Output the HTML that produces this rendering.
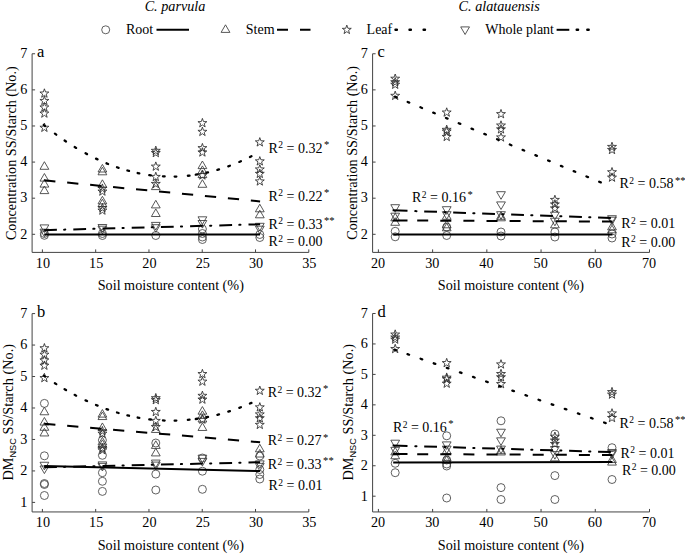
<!DOCTYPE html>
<html><head><meta charset="utf-8"><style>
html,body{margin:0;padding:0;background:#fff;}
svg{display:block;font-family:"Liberation Serif", serif;}
</style></head><body>
<svg width="685" height="554" viewBox="0 0 685 554" font-family='"Liberation Serif", serif' fill="#000">
<rect width="685" height="554" fill="#fff"/>
<text x="175.00" y="11.30" font-size="14.2" text-anchor="middle" font-style="italic">C. parvula</text>
<text x="499.20" y="11.30" font-size="14.2" text-anchor="middle" font-style="italic">C. alatauensis</text>
<circle cx="105.70" cy="29.80" r="4.0" fill="none" stroke="#444" stroke-width="0.85"/>
<text x="126.00" y="34.40" font-size="14" text-anchor="start" >Root</text>
<path d="M156.5,29.8 H189" stroke="#000" stroke-width="2"/>
<polygon points="225.50,24.80 229.90,32.40 221.10,32.40" fill="none" stroke="#3a3a3a" stroke-width="0.85"/>
<text x="245.80" y="34.40" font-size="14" text-anchor="start" >Stem</text>
<path d="M277,29.8 H288 M300,29.8 H310.5" stroke="#000" stroke-width="2"/>
<polygon points="346.80,25.10 347.91,28.28 351.27,28.35 348.59,30.38 349.56,33.60 346.80,31.68 344.04,33.60 345.01,30.38 342.33,28.35 345.69,28.28" fill="none" stroke="#2a2a2a" stroke-width="0.85"/>
<text x="366.60" y="34.40" font-size="14" text-anchor="start" >Leaf</text>
<path d="M395.50,29.80 L396.90,29.80 M409.50,29.80 L410.90,29.80 M423.60,29.80 L425.00,29.80" stroke="#000" stroke-width="2.4" stroke-linecap="round" fill="none"/>
<polygon points="465.10,34.50 469.50,26.90 460.70,26.90" fill="none" stroke="#3a3a3a" stroke-width="0.85"/>
<text x="485.20" y="34.40" font-size="14" text-anchor="start" >Whole plant</text>
<path d="M556.6,29.8 H569.3" stroke="#000" stroke-width="2"/>
<path d="M576.70,29.80 L578.10,29.80 M587.30,29.80 L588.70,29.80" stroke="#000" stroke-width="2.4" stroke-linecap="round" fill="none"/>
<path d="M32.1,53.75 V252.4 H308.80" fill="none" stroke="#444" stroke-width="1"/>
<path d="M42.40,252.4 v-3" stroke="#444" stroke-width="1"/>
<text x="42.90" y="267.90" font-size="14.2" text-anchor="middle" >10</text>
<path d="M95.68,252.4 v-3" stroke="#444" stroke-width="1"/>
<text x="96.18" y="267.90" font-size="14.2" text-anchor="middle" >15</text>
<path d="M148.96,252.4 v-3" stroke="#444" stroke-width="1"/>
<text x="149.46" y="267.90" font-size="14.2" text-anchor="middle" >20</text>
<path d="M202.24,252.4 v-3" stroke="#444" stroke-width="1"/>
<text x="202.74" y="267.90" font-size="14.2" text-anchor="middle" >25</text>
<path d="M255.52,252.4 v-3" stroke="#444" stroke-width="1"/>
<text x="256.02" y="267.90" font-size="14.2" text-anchor="middle" >30</text>
<path d="M308.80,252.4 v-3" stroke="#444" stroke-width="1"/>
<text x="309.30" y="267.90" font-size="14.2" text-anchor="middle" >35</text>
<path d="M32.1,234.30 h3" stroke="#444" stroke-width="1"/>
<text x="27.30" y="238.60" font-size="14.2" text-anchor="end" >2</text>
<path d="M32.1,198.19 h3" stroke="#444" stroke-width="1"/>
<text x="27.30" y="202.49" font-size="14.2" text-anchor="end" >3</text>
<path d="M32.1,162.08 h3" stroke="#444" stroke-width="1"/>
<text x="27.30" y="166.38" font-size="14.2" text-anchor="end" >4</text>
<path d="M32.1,125.97 h3" stroke="#444" stroke-width="1"/>
<text x="27.30" y="130.27" font-size="14.2" text-anchor="end" >5</text>
<path d="M32.1,89.86 h3" stroke="#444" stroke-width="1"/>
<text x="27.30" y="94.16" font-size="14.2" text-anchor="end" >6</text>
<path d="M32.1,53.75 h3" stroke="#444" stroke-width="1"/>
<text x="27.30" y="58.05" font-size="14.2" text-anchor="end" >7</text>
<text x="36.90" y="57.15" font-size="16.5" text-anchor="start" >a</text>
<path d="M32.1,313.6 V511.95 H308.80" fill="none" stroke="#444" stroke-width="1"/>
<path d="M42.40,511.95 v-3" stroke="#444" stroke-width="1"/>
<text x="42.90" y="527.45" font-size="14.2" text-anchor="middle" >10</text>
<path d="M95.68,511.95 v-3" stroke="#444" stroke-width="1"/>
<text x="96.18" y="527.45" font-size="14.2" text-anchor="middle" >15</text>
<path d="M148.96,511.95 v-3" stroke="#444" stroke-width="1"/>
<text x="149.46" y="527.45" font-size="14.2" text-anchor="middle" >20</text>
<path d="M202.24,511.95 v-3" stroke="#444" stroke-width="1"/>
<text x="202.74" y="527.45" font-size="14.2" text-anchor="middle" >25</text>
<path d="M255.52,511.95 v-3" stroke="#444" stroke-width="1"/>
<text x="256.02" y="527.45" font-size="14.2" text-anchor="middle" >30</text>
<path d="M308.80,511.95 v-3" stroke="#444" stroke-width="1"/>
<text x="309.30" y="527.45" font-size="14.2" text-anchor="middle" >35</text>
<path d="M32.1,502.40 h3" stroke="#444" stroke-width="1"/>
<text x="27.30" y="506.70" font-size="14.2" text-anchor="end" >1</text>
<path d="M32.1,470.93 h3" stroke="#444" stroke-width="1"/>
<text x="27.30" y="475.23" font-size="14.2" text-anchor="end" >2</text>
<path d="M32.1,439.46 h3" stroke="#444" stroke-width="1"/>
<text x="27.30" y="443.76" font-size="14.2" text-anchor="end" >3</text>
<path d="M32.1,407.99 h3" stroke="#444" stroke-width="1"/>
<text x="27.30" y="412.29" font-size="14.2" text-anchor="end" >4</text>
<path d="M32.1,376.52 h3" stroke="#444" stroke-width="1"/>
<text x="27.30" y="380.82" font-size="14.2" text-anchor="end" >5</text>
<path d="M32.1,345.05 h3" stroke="#444" stroke-width="1"/>
<text x="27.30" y="349.35" font-size="14.2" text-anchor="end" >6</text>
<path d="M32.1,313.58 h3" stroke="#444" stroke-width="1"/>
<text x="27.30" y="317.88" font-size="14.2" text-anchor="end" >7</text>
<text x="36.90" y="317.00" font-size="16.5" text-anchor="start" >b</text>
<path d="M372.6,53.75 V252.4 H649.50" fill="none" stroke="#444" stroke-width="1"/>
<path d="M378.40,252.4 v-3" stroke="#444" stroke-width="1"/>
<text x="378.00" y="267.90" font-size="14.2" text-anchor="middle" >20</text>
<path d="M432.62,252.4 v-3" stroke="#444" stroke-width="1"/>
<text x="432.22" y="267.90" font-size="14.2" text-anchor="middle" >30</text>
<path d="M486.84,252.4 v-3" stroke="#444" stroke-width="1"/>
<text x="486.44" y="267.90" font-size="14.2" text-anchor="middle" >40</text>
<path d="M541.06,252.4 v-3" stroke="#444" stroke-width="1"/>
<text x="540.66" y="267.90" font-size="14.2" text-anchor="middle" >50</text>
<path d="M595.28,252.4 v-3" stroke="#444" stroke-width="1"/>
<text x="594.88" y="267.90" font-size="14.2" text-anchor="middle" >60</text>
<path d="M649.50,252.4 v-3" stroke="#444" stroke-width="1"/>
<text x="649.10" y="267.90" font-size="14.2" text-anchor="middle" >70</text>
<path d="M372.6,234.30 h3" stroke="#444" stroke-width="1"/>
<text x="367.80" y="238.60" font-size="14.2" text-anchor="end" >2</text>
<path d="M372.6,198.19 h3" stroke="#444" stroke-width="1"/>
<text x="367.80" y="202.49" font-size="14.2" text-anchor="end" >3</text>
<path d="M372.6,162.08 h3" stroke="#444" stroke-width="1"/>
<text x="367.80" y="166.38" font-size="14.2" text-anchor="end" >4</text>
<path d="M372.6,125.97 h3" stroke="#444" stroke-width="1"/>
<text x="367.80" y="130.27" font-size="14.2" text-anchor="end" >5</text>
<path d="M372.6,89.86 h3" stroke="#444" stroke-width="1"/>
<text x="367.80" y="94.16" font-size="14.2" text-anchor="end" >6</text>
<path d="M372.6,53.75 h3" stroke="#444" stroke-width="1"/>
<text x="367.80" y="58.05" font-size="14.2" text-anchor="end" >7</text>
<text x="377.40" y="57.15" font-size="16.5" text-anchor="start" >c</text>
<path d="M372.6,313.5 V511.95 H649.50" fill="none" stroke="#444" stroke-width="1"/>
<path d="M378.40,511.95 v-3" stroke="#444" stroke-width="1"/>
<text x="378.00" y="527.45" font-size="14.2" text-anchor="middle" >20</text>
<path d="M432.62,511.95 v-3" stroke="#444" stroke-width="1"/>
<text x="432.22" y="527.45" font-size="14.2" text-anchor="middle" >30</text>
<path d="M486.84,511.95 v-3" stroke="#444" stroke-width="1"/>
<text x="486.44" y="527.45" font-size="14.2" text-anchor="middle" >40</text>
<path d="M541.06,511.95 v-3" stroke="#444" stroke-width="1"/>
<text x="540.66" y="527.45" font-size="14.2" text-anchor="middle" >50</text>
<path d="M595.28,511.95 v-3" stroke="#444" stroke-width="1"/>
<text x="594.88" y="527.45" font-size="14.2" text-anchor="middle" >60</text>
<path d="M649.50,511.95 v-3" stroke="#444" stroke-width="1"/>
<text x="649.10" y="527.45" font-size="14.2" text-anchor="middle" >70</text>
<path d="M372.6,496.20 h3" stroke="#444" stroke-width="1"/>
<text x="367.80" y="500.50" font-size="14.2" text-anchor="end" >1</text>
<path d="M372.6,465.75 h3" stroke="#444" stroke-width="1"/>
<text x="367.80" y="470.05" font-size="14.2" text-anchor="end" >2</text>
<path d="M372.6,435.30 h3" stroke="#444" stroke-width="1"/>
<text x="367.80" y="439.60" font-size="14.2" text-anchor="end" >3</text>
<path d="M372.6,404.85 h3" stroke="#444" stroke-width="1"/>
<text x="367.80" y="409.15" font-size="14.2" text-anchor="end" >4</text>
<path d="M372.6,374.40 h3" stroke="#444" stroke-width="1"/>
<text x="367.80" y="378.70" font-size="14.2" text-anchor="end" >5</text>
<path d="M372.6,343.95 h3" stroke="#444" stroke-width="1"/>
<text x="367.80" y="348.25" font-size="14.2" text-anchor="end" >6</text>
<path d="M372.6,313.50 h3" stroke="#444" stroke-width="1"/>
<text x="367.80" y="317.80" font-size="14.2" text-anchor="end" >7</text>
<text x="377.40" y="316.90" font-size="16.5" text-anchor="start" >d</text>
<text x="170.80" y="290.20" font-size="14.2" text-anchor="middle" >Soil moisture content (%)</text>
<text x="510.90" y="290.20" font-size="14.2" text-anchor="middle" >Soil moisture content (%)</text>
<text x="170.80" y="550.10" font-size="14.2" text-anchor="middle" >Soil moisture content (%)</text>
<text x="510.90" y="550.10" font-size="14.2" text-anchor="middle" >Soil moisture content (%)</text>
<text transform="translate(16.3,153.2) rotate(-90)" font-size="14.2" text-anchor="middle">Concentration SS/Starch (No.)</text>
<text transform="translate(356.8,152.9) rotate(-90)" font-size="14.2" text-anchor="middle">Concentration SS/Starch (No.)</text>
<text transform="translate(12.9,412.3) rotate(-90)" font-size="14.3" text-anchor="middle">DM<tspan font-family="Liberation Sans, sans-serif" font-size="9.2" dy="3">NSC</tspan><tspan dy="-3"> SS/Starch (No.)</tspan></text>
<text transform="translate(353.3,412.3) rotate(-90)" font-size="14.3" text-anchor="middle">DM<tspan font-family="Liberation Sans, sans-serif" font-size="9.2" dy="3">NSC</tspan><tspan dy="-3"> SS/Starch (No.)</tspan></text>
<circle cx="44.40" cy="233.50" r="4.0" fill="none" stroke="#444" stroke-width="0.85"/>
<circle cx="44.40" cy="235.30" r="4.0" fill="none" stroke="#444" stroke-width="0.85"/>
<polygon points="44.40,232.50 48.80,224.90 40.00,224.90" fill="none" stroke="#3a3a3a" stroke-width="0.85"/>
<polygon points="44.40,236.80 48.80,229.20 40.00,229.20" fill="none" stroke="#3a3a3a" stroke-width="0.85"/>
<polygon points="44.40,161.70 48.80,169.30 40.00,169.30" fill="none" stroke="#3a3a3a" stroke-width="0.85"/>
<polygon points="44.40,173.50 48.80,181.10 40.00,181.10" fill="none" stroke="#3a3a3a" stroke-width="0.85"/>
<polygon points="44.40,179.50 48.80,187.10 40.00,187.10" fill="none" stroke="#3a3a3a" stroke-width="0.85"/>
<polygon points="44.40,186.00 48.80,193.60 40.00,193.60" fill="none" stroke="#3a3a3a" stroke-width="0.85"/>
<polygon points="44.40,88.80 45.51,91.98 48.87,92.05 46.19,94.08 47.16,97.30 44.40,95.38 41.64,97.30 42.61,94.08 39.93,92.05 43.29,91.98" fill="none" stroke="#2a2a2a" stroke-width="0.85"/>
<polygon points="44.40,96.20 45.51,99.38 48.87,99.45 46.19,101.48 47.16,104.70 44.40,102.78 41.64,104.70 42.61,101.48 39.93,99.45 43.29,99.38" fill="none" stroke="#2a2a2a" stroke-width="0.85"/>
<polygon points="44.40,102.70 45.51,105.88 48.87,105.95 46.19,107.98 47.16,111.20 44.40,109.28 41.64,111.20 42.61,107.98 39.93,105.95 43.29,105.88" fill="none" stroke="#2a2a2a" stroke-width="0.85"/>
<polygon points="44.40,108.80 45.51,111.98 48.87,112.05 46.19,114.08 47.16,117.30 44.40,115.38 41.64,117.30 42.61,114.08 39.93,112.05 43.29,111.98" fill="none" stroke="#2a2a2a" stroke-width="0.85"/>
<polygon points="44.40,123.00 45.51,126.18 48.87,126.25 46.19,128.28 47.16,131.50 44.40,129.58 41.64,131.50 42.61,128.28 39.93,126.25 43.29,126.18" fill="none" stroke="#2a2a2a" stroke-width="0.85"/>
<circle cx="102.40" cy="233.50" r="4.0" fill="none" stroke="#444" stroke-width="0.85"/>
<circle cx="102.40" cy="235.50" r="4.0" fill="none" stroke="#444" stroke-width="0.85"/>
<polygon points="102.40,232.10 106.80,224.50 98.00,224.50" fill="none" stroke="#3a3a3a" stroke-width="0.85"/>
<polygon points="102.40,233.80 106.80,226.20 98.00,226.20" fill="none" stroke="#3a3a3a" stroke-width="0.85"/>
<polygon points="102.40,164.40 106.80,172.00 98.00,172.00" fill="none" stroke="#3a3a3a" stroke-width="0.85"/>
<polygon points="102.40,167.20 106.80,174.80 98.00,174.80" fill="none" stroke="#3a3a3a" stroke-width="0.85"/>
<polygon points="102.40,179.80 106.80,187.40 98.00,187.40" fill="none" stroke="#3a3a3a" stroke-width="0.85"/>
<polygon points="102.40,196.30 106.80,203.90 98.00,203.90" fill="none" stroke="#3a3a3a" stroke-width="0.85"/>
<polygon points="102.40,199.20 106.80,206.80 98.00,206.80" fill="none" stroke="#3a3a3a" stroke-width="0.85"/>
<polygon points="102.40,183.90 103.51,187.08 106.87,187.15 104.19,189.18 105.16,192.40 102.40,190.48 99.64,192.40 100.61,189.18 97.93,187.15 101.29,187.08" fill="none" stroke="#2a2a2a" stroke-width="0.85"/>
<polygon points="102.40,186.80 103.51,189.98 106.87,190.05 104.19,192.08 105.16,195.30 102.40,193.38 99.64,195.30 100.61,192.08 97.93,190.05 101.29,189.98" fill="none" stroke="#2a2a2a" stroke-width="0.85"/>
<polygon points="102.40,203.30 103.51,206.48 106.87,206.55 104.19,208.58 105.16,211.80 102.40,209.88 99.64,211.80 100.61,208.58 97.93,206.55 101.29,206.48" fill="none" stroke="#2a2a2a" stroke-width="0.85"/>
<polygon points="102.40,205.80 103.51,208.98 106.87,209.05 104.19,211.08 105.16,214.30 102.40,212.38 99.64,214.30 100.61,211.08 97.93,209.05 101.29,208.98" fill="none" stroke="#2a2a2a" stroke-width="0.85"/>
<circle cx="155.80" cy="235.50" r="4.0" fill="none" stroke="#444" stroke-width="0.85"/>
<polygon points="155.80,230.00 160.20,222.40 151.40,222.40" fill="none" stroke="#3a3a3a" stroke-width="0.85"/>
<polygon points="155.80,232.30 160.20,224.70 151.40,224.70" fill="none" stroke="#3a3a3a" stroke-width="0.85"/>
<polygon points="155.80,182.00 160.20,189.60 151.40,189.60" fill="none" stroke="#3a3a3a" stroke-width="0.85"/>
<polygon points="155.80,200.30 160.20,207.90 151.40,207.90" fill="none" stroke="#3a3a3a" stroke-width="0.85"/>
<polygon points="155.80,208.90 160.20,216.50 151.40,216.50" fill="none" stroke="#3a3a3a" stroke-width="0.85"/>
<polygon points="155.80,146.10 156.91,149.28 160.27,149.35 157.59,151.38 158.56,154.60 155.80,152.68 153.04,154.60 154.01,151.38 151.33,149.35 154.69,149.28" fill="none" stroke="#2a2a2a" stroke-width="0.85"/>
<polygon points="155.80,148.30 156.91,151.48 160.27,151.55 157.59,153.58 158.56,156.80 155.80,154.88 153.04,156.80 154.01,153.58 151.33,151.55 154.69,151.48" fill="none" stroke="#2a2a2a" stroke-width="0.85"/>
<polygon points="155.80,161.90 156.91,165.08 160.27,165.15 157.59,167.18 158.56,170.40 155.80,168.48 153.04,170.40 154.01,167.18 151.33,165.15 154.69,165.08" fill="none" stroke="#2a2a2a" stroke-width="0.85"/>
<polygon points="155.80,172.20 156.91,175.38 160.27,175.45 157.59,177.48 158.56,180.70 155.80,178.78 153.04,180.70 154.01,177.48 151.33,175.45 154.69,175.38" fill="none" stroke="#2a2a2a" stroke-width="0.85"/>
<polygon points="155.80,179.20 156.91,182.38 160.27,182.45 157.59,184.48 158.56,187.70 155.80,185.78 153.04,187.70 154.01,184.48 151.33,182.45 154.69,182.38" fill="none" stroke="#2a2a2a" stroke-width="0.85"/>
<circle cx="202.40" cy="229.00" r="4.0" fill="none" stroke="#444" stroke-width="0.85"/>
<circle cx="202.40" cy="233.50" r="4.0" fill="none" stroke="#444" stroke-width="0.85"/>
<circle cx="202.40" cy="237.00" r="4.0" fill="none" stroke="#444" stroke-width="0.85"/>
<circle cx="202.40" cy="239.50" r="4.0" fill="none" stroke="#444" stroke-width="0.85"/>
<polygon points="202.40,224.40 206.80,216.80 198.00,216.80" fill="none" stroke="#3a3a3a" stroke-width="0.85"/>
<polygon points="202.40,228.10 206.80,220.50 198.00,220.50" fill="none" stroke="#3a3a3a" stroke-width="0.85"/>
<polygon points="202.40,161.00 206.80,168.60 198.00,168.60" fill="none" stroke="#3a3a3a" stroke-width="0.85"/>
<polygon points="202.40,165.90 206.80,173.50 198.00,173.50" fill="none" stroke="#3a3a3a" stroke-width="0.85"/>
<polygon points="202.40,170.00 206.80,177.60 198.00,177.60" fill="none" stroke="#3a3a3a" stroke-width="0.85"/>
<polygon points="202.40,179.70 206.80,187.30 198.00,187.30" fill="none" stroke="#3a3a3a" stroke-width="0.85"/>
<polygon points="202.40,118.40 203.51,121.58 206.87,121.65 204.19,123.68 205.16,126.90 202.40,124.98 199.64,126.90 200.61,123.68 197.93,121.65 201.29,121.58" fill="none" stroke="#2a2a2a" stroke-width="0.85"/>
<polygon points="202.40,127.10 203.51,130.28 206.87,130.35 204.19,132.38 205.16,135.60 202.40,133.68 199.64,135.60 200.61,132.38 197.93,130.35 201.29,130.28" fill="none" stroke="#2a2a2a" stroke-width="0.85"/>
<polygon points="202.40,143.40 203.51,146.58 206.87,146.65 204.19,148.68 205.16,151.90 202.40,149.98 199.64,151.90 200.61,148.68 197.93,146.65 201.29,146.58" fill="none" stroke="#2a2a2a" stroke-width="0.85"/>
<polygon points="202.40,147.70 203.51,150.88 206.87,150.95 204.19,152.98 205.16,156.20 202.40,154.28 199.64,156.20 200.61,152.98 197.93,150.95 201.29,150.88" fill="none" stroke="#2a2a2a" stroke-width="0.85"/>
<polygon points="202.40,170.70 203.51,173.88 206.87,173.95 204.19,175.98 205.16,179.20 202.40,177.28 199.64,179.20 200.61,175.98 197.93,173.95 201.29,173.88" fill="none" stroke="#2a2a2a" stroke-width="0.85"/>
<circle cx="259.80" cy="234.50" r="4.0" fill="none" stroke="#444" stroke-width="0.85"/>
<circle cx="259.80" cy="237.50" r="4.0" fill="none" stroke="#444" stroke-width="0.85"/>
<polygon points="259.80,230.90 264.20,223.30 255.40,223.30" fill="none" stroke="#3a3a3a" stroke-width="0.85"/>
<polygon points="259.80,233.80 264.20,226.20 255.40,226.20" fill="none" stroke="#3a3a3a" stroke-width="0.85"/>
<polygon points="259.80,204.20 264.20,211.80 255.40,211.80" fill="none" stroke="#3a3a3a" stroke-width="0.85"/>
<polygon points="259.80,210.20 264.20,217.80 255.40,217.80" fill="none" stroke="#3a3a3a" stroke-width="0.85"/>
<polygon points="259.80,137.60 260.91,140.78 264.27,140.85 261.59,142.88 262.56,146.10 259.80,144.18 257.04,146.10 258.01,142.88 255.33,140.85 258.69,140.78" fill="none" stroke="#2a2a2a" stroke-width="0.85"/>
<polygon points="259.80,156.60 260.91,159.78 264.27,159.85 261.59,161.88 262.56,165.10 259.80,163.18 257.04,165.10 258.01,161.88 255.33,159.85 258.69,159.78" fill="none" stroke="#2a2a2a" stroke-width="0.85"/>
<polygon points="259.80,164.70 260.91,167.88 264.27,167.95 261.59,169.98 262.56,173.20 259.80,171.28 257.04,173.20 258.01,169.98 255.33,167.95 258.69,167.88" fill="none" stroke="#2a2a2a" stroke-width="0.85"/>
<polygon points="259.80,169.10 260.91,172.28 264.27,172.35 261.59,174.38 262.56,177.60 259.80,175.68 257.04,177.60 258.01,174.38 255.33,172.35 258.69,172.28" fill="none" stroke="#2a2a2a" stroke-width="0.85"/>
<polygon points="259.80,176.70 260.91,179.88 264.27,179.95 261.59,181.98 262.56,185.20 259.80,183.28 257.04,185.20 258.01,181.98 255.33,179.95 258.69,179.88" fill="none" stroke="#2a2a2a" stroke-width="0.85"/>
<path d="M44.20,234.50 L260.00,234.50" fill="none" stroke="#000" stroke-width="2.2" stroke-linecap="butt"/>
<path d="M44.10,230.20 L56.90,229.85 M73.30,229.40 L86.10,229.05 M102.50,228.60 L115.30,228.26 M131.70,227.81 L144.50,227.46 M160.90,227.01 L173.70,226.66 M190.10,226.21 L202.90,225.86 M219.30,225.41 L232.10,225.06 M248.50,224.62 L260.10,224.30" stroke="#000" stroke-width="2.0" fill="none"/>
<path d="M64.10,229.65 L65.30,229.62 M93.30,228.86 L94.50,228.82 M122.50,228.06 L123.70,228.03 M151.70,227.26 L152.90,227.23 M180.90,226.46 L182.10,226.43 M210.10,225.67 L211.30,225.63 M239.30,224.87 L240.50,224.84" stroke="#000" stroke-width="2.0" stroke-linecap="round" fill="none"/>
<path d="M44.20,180.30 L55.40,181.39 M67.16,182.54 L78.36,183.64 M90.12,184.79 L101.32,185.88 M113.08,187.03 L124.28,188.13 M136.04,189.28 L147.24,190.37 M159.00,191.52 L170.20,192.61 M181.96,193.76 L193.16,194.86 M204.92,196.01 L216.12,197.10 M227.88,198.25 L239.08,199.35 M250.84,200.50 L260.10,201.40" stroke="#000" stroke-width="2.0" fill="none"/>
<path d="" stroke="#000" stroke-width="2.0" stroke-linecap="round" fill="none"/>
<path d="M43.74,125.04 L45.06,126.10 M54.91,133.68 L56.29,134.69 M64.59,140.53 L66.01,141.47 M74.67,147.02 L76.13,147.90 M85.55,153.31 L87.05,154.12 M96.03,158.66 L97.57,159.38 M106.51,163.31 L108.09,163.95 M117.00,167.27 L118.60,167.81 M127.38,170.50 L129.02,170.95 M137.67,173.03 L139.33,173.37 M149.26,175.07 L150.94,175.30 M162.95,176.39 L164.65,176.47 M174.65,176.57 L176.35,176.53 M187.86,175.74 L189.54,175.55 M195.76,174.71 L197.44,174.44 M206.37,172.70 L208.03,172.32 M217.39,169.87 L219.01,169.38 M228.30,166.30 L229.90,165.71 M239.32,161.93 L240.88,161.25 M249.94,156.99 L251.46,156.22" stroke="#000" stroke-width="2.3" stroke-linecap="round" fill="none"/>
<circle cx="44.40" cy="403.40" r="4.0" fill="none" stroke="#444" stroke-width="0.85"/>
<circle cx="44.40" cy="455.80" r="4.0" fill="none" stroke="#444" stroke-width="0.85"/>
<circle cx="44.40" cy="483.50" r="4.0" fill="none" stroke="#444" stroke-width="0.85"/>
<circle cx="44.40" cy="484.50" r="4.0" fill="none" stroke="#444" stroke-width="0.85"/>
<circle cx="44.40" cy="495.50" r="4.0" fill="none" stroke="#444" stroke-width="0.85"/>
<polygon points="44.40,469.85 48.80,462.25 40.00,462.25" fill="none" stroke="#3a3a3a" stroke-width="0.85"/>
<polygon points="44.40,473.60 48.80,466.00 40.00,466.00" fill="none" stroke="#3a3a3a" stroke-width="0.85"/>
<polygon points="44.40,407.17 48.80,414.77 40.00,414.77" fill="none" stroke="#3a3a3a" stroke-width="0.85"/>
<polygon points="44.40,417.45 48.80,425.05 40.00,425.05" fill="none" stroke="#3a3a3a" stroke-width="0.85"/>
<polygon points="44.40,422.68 48.80,430.28 40.00,430.28" fill="none" stroke="#3a3a3a" stroke-width="0.85"/>
<polygon points="44.40,428.35 48.80,435.95 40.00,435.95" fill="none" stroke="#3a3a3a" stroke-width="0.85"/>
<polygon points="44.40,343.52 45.51,346.70 48.87,346.77 46.19,348.80 47.16,352.02 44.40,350.10 41.64,352.02 42.61,348.80 39.93,346.77 43.29,346.70" fill="none" stroke="#2a2a2a" stroke-width="0.85"/>
<polygon points="44.40,349.97 45.51,353.15 48.87,353.22 46.19,355.25 47.16,358.47 44.40,356.55 41.64,358.47 42.61,355.25 39.93,353.22 43.29,353.15" fill="none" stroke="#2a2a2a" stroke-width="0.85"/>
<polygon points="44.40,355.64 45.51,358.82 48.87,358.88 46.19,360.92 47.16,364.14 44.40,362.22 41.64,364.14 42.61,360.92 39.93,358.88 43.29,358.82" fill="none" stroke="#2a2a2a" stroke-width="0.85"/>
<polygon points="44.40,360.95 45.51,364.13 48.87,364.20 46.19,366.23 47.16,369.45 44.40,367.53 41.64,369.45 42.61,366.23 39.93,364.20 43.29,364.13" fill="none" stroke="#2a2a2a" stroke-width="0.85"/>
<polygon points="44.40,373.33 45.51,376.51 48.87,376.58 46.19,378.61 47.16,381.83 44.40,379.91 41.64,381.83 42.61,378.61 39.93,376.58 43.29,376.51" fill="none" stroke="#2a2a2a" stroke-width="0.85"/>
<circle cx="102.40" cy="440.20" r="4.0" fill="none" stroke="#444" stroke-width="0.85"/>
<circle cx="102.40" cy="455.30" r="4.0" fill="none" stroke="#444" stroke-width="0.85"/>
<circle cx="102.40" cy="472.70" r="4.0" fill="none" stroke="#444" stroke-width="0.85"/>
<circle cx="102.40" cy="481.30" r="4.0" fill="none" stroke="#444" stroke-width="0.85"/>
<circle cx="102.40" cy="491.40" r="4.0" fill="none" stroke="#444" stroke-width="0.85"/>
<polygon points="102.40,469.50 106.80,461.90 98.00,461.90" fill="none" stroke="#3a3a3a" stroke-width="0.85"/>
<polygon points="102.40,470.98 106.80,463.38 98.00,463.38" fill="none" stroke="#3a3a3a" stroke-width="0.85"/>
<polygon points="102.40,409.52 106.80,417.12 98.00,417.12" fill="none" stroke="#3a3a3a" stroke-width="0.85"/>
<polygon points="102.40,411.96 106.80,419.56 98.00,419.56" fill="none" stroke="#3a3a3a" stroke-width="0.85"/>
<polygon points="102.40,422.94 106.80,430.54 98.00,430.54" fill="none" stroke="#3a3a3a" stroke-width="0.85"/>
<polygon points="102.40,437.32 106.80,444.92 98.00,444.92" fill="none" stroke="#3a3a3a" stroke-width="0.85"/>
<polygon points="102.40,439.85 106.80,447.45 98.00,447.45" fill="none" stroke="#3a3a3a" stroke-width="0.85"/>
<polygon points="102.40,426.40 103.51,429.58 106.87,429.65 104.19,431.68 105.16,434.90 102.40,432.98 99.64,434.90 100.61,431.68 97.93,429.65 101.29,429.58" fill="none" stroke="#2a2a2a" stroke-width="0.85"/>
<polygon points="102.40,428.93 103.51,432.11 106.87,432.18 104.19,434.21 105.16,437.43 102.40,435.51 99.64,437.43 100.61,434.21 97.93,432.18 101.29,432.11" fill="none" stroke="#2a2a2a" stroke-width="0.85"/>
<polygon points="102.40,443.31 103.51,446.49 106.87,446.56 104.19,448.59 105.16,451.81 102.40,449.89 99.64,451.81 100.61,448.59 97.93,446.56 101.29,446.49" fill="none" stroke="#2a2a2a" stroke-width="0.85"/>
<polygon points="102.40,445.49 103.51,448.67 106.87,448.74 104.19,450.77 105.16,453.99 102.40,452.07 99.64,453.99 100.61,450.77 97.93,448.74 101.29,448.67" fill="none" stroke="#2a2a2a" stroke-width="0.85"/>
<circle cx="155.80" cy="443.00" r="4.0" fill="none" stroke="#444" stroke-width="0.85"/>
<circle cx="155.80" cy="474.10" r="4.0" fill="none" stroke="#444" stroke-width="0.85"/>
<circle cx="155.80" cy="490.00" r="4.0" fill="none" stroke="#444" stroke-width="0.85"/>
<polygon points="155.80,467.67 160.20,460.07 151.40,460.07" fill="none" stroke="#3a3a3a" stroke-width="0.85"/>
<polygon points="155.80,469.68 160.20,462.08 151.40,462.08" fill="none" stroke="#3a3a3a" stroke-width="0.85"/>
<polygon points="155.80,424.86 160.20,432.46 151.40,432.46" fill="none" stroke="#3a3a3a" stroke-width="0.85"/>
<polygon points="155.80,440.81 160.20,448.41 151.40,448.41" fill="none" stroke="#3a3a3a" stroke-width="0.85"/>
<polygon points="155.80,448.31 160.20,455.91 151.40,455.91" fill="none" stroke="#3a3a3a" stroke-width="0.85"/>
<polygon points="155.80,393.46 156.91,396.64 160.27,396.71 157.59,398.74 158.56,401.96 155.80,400.04 153.04,401.96 154.01,398.74 151.33,396.71 154.69,396.64" fill="none" stroke="#2a2a2a" stroke-width="0.85"/>
<polygon points="155.80,395.38 156.91,398.56 160.27,398.62 157.59,400.66 158.56,403.88 155.80,401.96 153.04,403.88 154.01,400.66 151.33,398.62 154.69,398.56" fill="none" stroke="#2a2a2a" stroke-width="0.85"/>
<polygon points="155.80,407.23 156.91,410.41 160.27,410.48 157.59,412.51 158.56,415.73 155.80,413.81 153.04,415.73 154.01,412.51 151.33,410.48 154.69,410.41" fill="none" stroke="#2a2a2a" stroke-width="0.85"/>
<polygon points="155.80,416.21 156.91,419.38 160.27,419.45 157.59,421.49 158.56,424.71 155.80,422.79 153.04,424.71 154.01,421.49 151.33,419.45 154.69,419.38" fill="none" stroke="#2a2a2a" stroke-width="0.85"/>
<polygon points="155.80,422.31 156.91,425.49 160.27,425.55 157.59,427.59 158.56,430.81 155.80,428.89 153.04,430.81 154.01,427.59 151.33,425.55 154.69,425.49" fill="none" stroke="#2a2a2a" stroke-width="0.85"/>
<circle cx="202.40" cy="458.00" r="4.0" fill="none" stroke="#444" stroke-width="0.85"/>
<circle cx="202.40" cy="471.20" r="4.0" fill="none" stroke="#444" stroke-width="0.85"/>
<circle cx="202.40" cy="489.30" r="4.0" fill="none" stroke="#444" stroke-width="0.85"/>
<polygon points="202.40,462.79 206.80,455.19 198.00,455.19" fill="none" stroke="#3a3a3a" stroke-width="0.85"/>
<polygon points="202.40,466.01 206.80,458.41 198.00,458.41" fill="none" stroke="#3a3a3a" stroke-width="0.85"/>
<polygon points="202.40,406.56 206.80,414.16 198.00,414.16" fill="none" stroke="#3a3a3a" stroke-width="0.85"/>
<polygon points="202.40,410.83 206.80,418.43 198.00,418.43" fill="none" stroke="#3a3a3a" stroke-width="0.85"/>
<polygon points="202.40,414.40 206.80,422.00 198.00,422.00" fill="none" stroke="#3a3a3a" stroke-width="0.85"/>
<polygon points="202.40,422.86 206.80,430.46 198.00,430.46" fill="none" stroke="#3a3a3a" stroke-width="0.85"/>
<polygon points="202.40,369.32 203.51,372.50 206.87,372.57 204.19,374.60 205.16,377.82 202.40,375.90 199.64,377.82 200.61,374.60 197.93,372.57 201.29,372.50" fill="none" stroke="#2a2a2a" stroke-width="0.85"/>
<polygon points="202.40,376.90 203.51,380.08 206.87,380.15 204.19,382.18 205.16,385.40 202.40,383.48 199.64,385.40 200.61,382.18 197.93,380.15 201.29,380.08" fill="none" stroke="#2a2a2a" stroke-width="0.85"/>
<polygon points="202.40,391.11 203.51,394.29 206.87,394.35 204.19,396.39 205.16,399.61 202.40,397.69 199.64,399.61 200.61,396.39 197.93,394.35 201.29,394.29" fill="none" stroke="#2a2a2a" stroke-width="0.85"/>
<polygon points="202.40,394.85 203.51,398.03 206.87,398.10 204.19,400.13 205.16,403.36 202.40,401.43 199.64,403.36 200.61,400.13 197.93,398.10 201.29,398.03" fill="none" stroke="#2a2a2a" stroke-width="0.85"/>
<polygon points="202.40,414.90 203.51,418.08 206.87,418.15 204.19,420.18 205.16,423.40 202.40,421.48 199.64,423.40 200.61,420.18 197.93,418.15 201.29,418.08" fill="none" stroke="#2a2a2a" stroke-width="0.85"/>
<circle cx="259.80" cy="456.00" r="4.0" fill="none" stroke="#444" stroke-width="0.85"/>
<circle cx="259.80" cy="469.50" r="4.0" fill="none" stroke="#444" stroke-width="0.85"/>
<circle cx="259.80" cy="474.50" r="4.0" fill="none" stroke="#444" stroke-width="0.85"/>
<circle cx="259.80" cy="479.00" r="4.0" fill="none" stroke="#444" stroke-width="0.85"/>
<polygon points="259.80,468.46 264.20,460.86 255.40,460.86" fill="none" stroke="#3a3a3a" stroke-width="0.85"/>
<polygon points="259.80,470.98 264.20,463.38 255.40,463.38" fill="none" stroke="#3a3a3a" stroke-width="0.85"/>
<polygon points="259.80,444.21 264.20,451.81 255.40,451.81" fill="none" stroke="#3a3a3a" stroke-width="0.85"/>
<polygon points="259.80,449.44 264.20,457.04 255.40,457.04" fill="none" stroke="#3a3a3a" stroke-width="0.85"/>
<polygon points="259.80,386.05 260.91,389.23 264.27,389.30 261.59,391.33 262.56,394.55 259.80,392.63 257.04,394.55 258.01,391.33 255.33,389.30 258.69,389.23" fill="none" stroke="#2a2a2a" stroke-width="0.85"/>
<polygon points="259.80,402.61 260.91,405.79 264.27,405.86 261.59,407.89 262.56,411.11 259.80,409.19 257.04,411.11 258.01,407.89 255.33,405.86 258.69,405.79" fill="none" stroke="#2a2a2a" stroke-width="0.85"/>
<polygon points="259.80,409.67 260.91,412.85 264.27,412.92 261.59,414.95 262.56,418.17 259.80,416.25 257.04,418.17 258.01,414.95 255.33,412.92 258.69,412.85" fill="none" stroke="#2a2a2a" stroke-width="0.85"/>
<polygon points="259.80,413.50 260.91,416.68 264.27,416.75 261.59,418.78 262.56,422.01 259.80,420.08 257.04,422.01 258.01,418.78 255.33,416.75 258.69,416.68" fill="none" stroke="#2a2a2a" stroke-width="0.85"/>
<polygon points="259.80,420.13 260.91,423.31 264.27,423.38 261.59,425.41 262.56,428.63 259.80,426.71 257.04,428.63 258.01,425.41 255.33,423.38 258.69,423.31" fill="none" stroke="#2a2a2a" stroke-width="0.85"/>
<path d="M44.20,466.00 L260.00,471.10" fill="none" stroke="#000" stroke-width="2.0" stroke-linecap="butt"/>
<path d="M44.10,467.36 L56.90,467.05 M73.30,466.66 L86.10,466.36 M102.50,465.97 L115.30,465.66 M131.70,465.27 L144.50,464.97 M160.90,464.58 L173.70,464.27 M190.10,463.88 L202.90,463.58 M219.30,463.19 L232.10,462.88 M248.50,462.49 L260.10,462.21" stroke="#000" stroke-width="2.0" fill="none"/>
<path d="M64.10,466.88 L65.30,466.85 M93.30,466.19 L94.50,466.16 M122.50,465.49 L123.70,465.46 M151.70,464.80 L152.90,464.77 M180.90,464.10 L182.10,464.07 M210.10,463.41 L211.30,463.38 M239.30,462.71 L240.50,462.68" stroke="#000" stroke-width="2.0" stroke-linecap="round" fill="none"/>
<path d="M44.20,423.87 L55.40,424.82 M67.16,425.82 L78.36,426.78 M90.12,427.78 L101.32,428.73 M113.08,429.74 L124.28,430.69 M136.04,431.69 L147.24,432.64 M159.00,433.65 L170.20,434.60 M181.96,435.60 L193.16,436.56 M204.92,437.56 L216.12,438.51 M227.88,439.51 L239.08,440.47 M250.84,441.47 L260.10,442.26" stroke="#000" stroke-width="2.0" fill="none"/>
<path d="" stroke="#000" stroke-width="2.0" stroke-linecap="round" fill="none"/>
<path d="M43.70,375.68 L45.10,376.66 M54.88,383.22 L56.32,384.14 M64.57,389.19 L66.03,390.05 M74.65,394.85 L76.15,395.65 M85.53,400.34 L87.07,401.06 M96.01,405.00 L97.59,405.65 M106.50,409.06 L108.10,409.62 M116.98,412.51 L118.62,412.99 M127.37,415.33 L129.03,415.72 M137.66,417.53 L139.34,417.83 M149.26,419.31 L150.94,419.51 M162.95,420.46 L164.65,420.53 M174.65,420.62 L176.35,420.58 M187.85,419.89 L189.55,419.73 M195.76,418.99 L197.44,418.76 M206.37,417.25 L208.03,416.92 M217.38,414.78 L219.02,414.35 M228.29,411.67 L229.91,411.15 M239.31,407.86 L240.89,407.26 M249.92,403.56 L251.48,402.88" stroke="#000" stroke-width="2.3" stroke-linecap="round" fill="none"/>
<text x="268.60" y="152.6" font-size="14">R<tspan font-size="9.5" dy="-4.6" dx="0.4">2</tspan><tspan dy="4.6"> = 0.32</tspan><tspan font-size="10.6" dy="-4.8" dx="1.5">*</tspan></text>
<text x="268.60" y="200.9" font-size="14">R<tspan font-size="9.5" dy="-4.6" dx="0.4">2</tspan><tspan dy="4.6"> = 0.22</tspan><tspan font-size="10.6" dy="-4.8" dx="1.5">*</tspan></text>
<text x="268.60" y="228.8" font-size="14">R<tspan font-size="9.5" dy="-4.6" dx="0.4">2</tspan><tspan dy="4.6"> = 0.33</tspan><tspan font-size="10.6" dy="-4.8" dx="1.5">**</tspan></text>
<text x="268.60" y="246.3" font-size="14">R<tspan font-size="9.5" dy="-4.6" dx="0.4">2</tspan><tspan dy="4.6"> = 0.00</tspan></text>
<text x="267.70" y="397.1" font-size="14">R<tspan font-size="9.5" dy="-4.6" dx="0.4">2</tspan><tspan dy="4.6"> = 0.32</tspan><tspan font-size="10.6" dy="-4.8" dx="1.5">*</tspan></text>
<text x="267.70" y="445.3" font-size="14">R<tspan font-size="9.5" dy="-4.6" dx="0.4">2</tspan><tspan dy="4.6"> = 0.27</tspan><tspan font-size="10.6" dy="-4.8" dx="1.5">*</tspan></text>
<text x="267.70" y="469.1" font-size="14">R<tspan font-size="9.5" dy="-4.6" dx="0.4">2</tspan><tspan dy="4.6"> = 0.33</tspan><tspan font-size="10.6" dy="-4.8" dx="1.5">**</tspan></text>
<text x="268.50" y="490.2" font-size="14">R<tspan font-size="9.5" dy="-4.6" dx="0.4">2</tspan><tspan dy="4.6"> = 0.01</tspan></text>
<circle cx="395.20" cy="231.30" r="4.0" fill="none" stroke="#444" stroke-width="0.85"/>
<circle cx="395.20" cy="236.80" r="4.0" fill="none" stroke="#444" stroke-width="0.85"/>
<polygon points="395.20,212.30 399.60,204.70 390.80,204.70" fill="none" stroke="#3a3a3a" stroke-width="0.85"/>
<polygon points="395.20,220.80 399.60,213.20 390.80,213.20" fill="none" stroke="#3a3a3a" stroke-width="0.85"/>
<polygon points="395.20,213.20 399.60,220.80 390.80,220.80" fill="none" stroke="#3a3a3a" stroke-width="0.85"/>
<polygon points="395.20,217.70 399.60,225.30 390.80,225.30" fill="none" stroke="#3a3a3a" stroke-width="0.85"/>
<polygon points="395.20,74.00 396.31,77.18 399.67,77.25 396.99,79.28 397.96,82.50 395.20,80.58 392.44,82.50 393.41,79.28 390.73,77.25 394.09,77.18" fill="none" stroke="#2a2a2a" stroke-width="0.85"/>
<polygon points="395.20,77.50 396.31,80.68 399.67,80.75 396.99,82.78 397.96,86.00 395.20,84.08 392.44,86.00 393.41,82.78 390.73,80.75 394.09,80.68" fill="none" stroke="#2a2a2a" stroke-width="0.85"/>
<polygon points="395.20,80.00 396.31,83.18 399.67,83.25 396.99,85.28 397.96,88.50 395.20,86.58 392.44,88.50 393.41,85.28 390.73,83.25 394.09,83.18" fill="none" stroke="#2a2a2a" stroke-width="0.85"/>
<polygon points="395.20,91.10 396.31,94.28 399.67,94.35 396.99,96.38 397.96,99.60 395.20,97.68 392.44,99.60 393.41,96.38 390.73,94.35 394.09,94.28" fill="none" stroke="#2a2a2a" stroke-width="0.85"/>
<circle cx="446.70" cy="227.00" r="4.0" fill="none" stroke="#444" stroke-width="0.85"/>
<circle cx="446.70" cy="235.50" r="4.0" fill="none" stroke="#444" stroke-width="0.85"/>
<polygon points="446.70,214.30 451.10,206.70 442.30,206.70" fill="none" stroke="#3a3a3a" stroke-width="0.85"/>
<polygon points="446.70,219.30 451.10,211.70 442.30,211.70" fill="none" stroke="#3a3a3a" stroke-width="0.85"/>
<polygon points="446.70,211.70 451.10,219.30 442.30,219.30" fill="none" stroke="#3a3a3a" stroke-width="0.85"/>
<polygon points="446.70,220.20 451.10,227.80 442.30,227.80" fill="none" stroke="#3a3a3a" stroke-width="0.85"/>
<polygon points="446.70,223.20 451.10,230.80 442.30,230.80" fill="none" stroke="#3a3a3a" stroke-width="0.85"/>
<polygon points="446.70,107.80 447.81,110.98 451.17,111.05 448.49,113.08 449.46,116.30 446.70,114.38 443.94,116.30 444.91,113.08 442.23,111.05 445.59,110.98" fill="none" stroke="#2a2a2a" stroke-width="0.85"/>
<polygon points="446.70,125.10 447.81,128.28 451.17,128.35 448.49,130.38 449.46,133.60 446.70,131.68 443.94,133.60 444.91,130.38 442.23,128.35 445.59,128.28" fill="none" stroke="#2a2a2a" stroke-width="0.85"/>
<polygon points="446.70,126.80 447.81,129.98 451.17,130.05 448.49,132.08 449.46,135.30 446.70,133.38 443.94,135.30 444.91,132.08 442.23,130.05 445.59,129.98" fill="none" stroke="#2a2a2a" stroke-width="0.85"/>
<polygon points="446.70,132.20 447.81,135.38 451.17,135.45 448.49,137.48 449.46,140.70 446.70,138.78 443.94,140.70 444.91,137.48 442.23,135.45 445.59,135.38" fill="none" stroke="#2a2a2a" stroke-width="0.85"/>
<circle cx="501.00" cy="232.00" r="4.0" fill="none" stroke="#444" stroke-width="0.85"/>
<circle cx="501.00" cy="236.00" r="4.0" fill="none" stroke="#444" stroke-width="0.85"/>
<polygon points="501.00,199.30 505.40,191.70 496.60,191.70" fill="none" stroke="#3a3a3a" stroke-width="0.85"/>
<polygon points="501.00,209.50 505.40,201.90 496.60,201.90" fill="none" stroke="#3a3a3a" stroke-width="0.85"/>
<polygon points="501.00,219.30 505.40,211.70 496.60,211.70" fill="none" stroke="#3a3a3a" stroke-width="0.85"/>
<polygon points="501.00,211.70 505.40,219.30 496.60,219.30" fill="none" stroke="#3a3a3a" stroke-width="0.85"/>
<polygon points="501.00,213.20 505.40,220.80 496.60,220.80" fill="none" stroke="#3a3a3a" stroke-width="0.85"/>
<polygon points="501.00,109.40 502.11,112.58 505.47,112.65 502.79,114.68 503.76,117.90 501.00,115.98 498.24,117.90 499.21,114.68 496.53,112.65 499.89,112.58" fill="none" stroke="#2a2a2a" stroke-width="0.85"/>
<polygon points="501.00,120.80 502.11,123.98 505.47,124.05 502.79,126.08 503.76,129.30 501.00,127.38 498.24,129.30 499.21,126.08 496.53,124.05 499.89,123.98" fill="none" stroke="#2a2a2a" stroke-width="0.85"/>
<polygon points="501.00,124.60 502.11,127.78 505.47,127.85 502.79,129.88 503.76,133.10 501.00,131.18 498.24,133.10 499.21,129.88 496.53,127.85 499.89,127.78" fill="none" stroke="#2a2a2a" stroke-width="0.85"/>
<polygon points="501.00,132.70 502.11,135.88 505.47,135.95 502.79,137.98 503.76,141.20 501.00,139.28 498.24,141.20 499.21,137.98 496.53,135.95 499.89,135.88" fill="none" stroke="#2a2a2a" stroke-width="0.85"/>
<circle cx="554.90" cy="232.00" r="4.0" fill="none" stroke="#444" stroke-width="0.85"/>
<circle cx="554.90" cy="237.00" r="4.0" fill="none" stroke="#444" stroke-width="0.85"/>
<polygon points="554.90,219.80 559.30,212.20 550.50,212.20" fill="none" stroke="#3a3a3a" stroke-width="0.85"/>
<polygon points="554.90,225.80 559.30,218.20 550.50,218.20" fill="none" stroke="#3a3a3a" stroke-width="0.85"/>
<polygon points="554.90,220.20 559.30,227.80 550.50,227.80" fill="none" stroke="#3a3a3a" stroke-width="0.85"/>
<polygon points="554.90,195.20 556.01,198.38 559.37,198.45 556.69,200.48 557.66,203.70 554.90,201.78 552.14,203.70 553.11,200.48 550.43,198.45 553.79,198.38" fill="none" stroke="#2a2a2a" stroke-width="0.85"/>
<polygon points="554.90,199.70 556.01,202.88 559.37,202.95 556.69,204.98 557.66,208.20 554.90,206.28 552.14,208.20 553.11,204.98 550.43,202.95 553.79,202.88" fill="none" stroke="#2a2a2a" stroke-width="0.85"/>
<polygon points="554.90,203.70 556.01,206.88 559.37,206.95 556.69,208.98 557.66,212.20 554.90,210.28 552.14,212.20 553.11,208.98 550.43,206.95 553.79,206.88" fill="none" stroke="#2a2a2a" stroke-width="0.85"/>
<circle cx="612.00" cy="234.00" r="4.0" fill="none" stroke="#444" stroke-width="0.85"/>
<circle cx="612.00" cy="238.00" r="4.0" fill="none" stroke="#444" stroke-width="0.85"/>
<polygon points="612.00,223.30 616.40,215.70 607.60,215.70" fill="none" stroke="#3a3a3a" stroke-width="0.85"/>
<polygon points="612.00,224.80 616.40,217.20 607.60,217.20" fill="none" stroke="#3a3a3a" stroke-width="0.85"/>
<polygon points="612.00,222.20 616.40,229.80 607.60,229.80" fill="none" stroke="#3a3a3a" stroke-width="0.85"/>
<polygon points="612.00,225.20 616.40,232.80 607.60,232.80" fill="none" stroke="#3a3a3a" stroke-width="0.85"/>
<polygon points="612.00,142.20 613.11,145.38 616.47,145.45 613.79,147.48 614.76,150.70 612.00,148.78 609.24,150.70 610.21,147.48 607.53,145.45 610.89,145.38" fill="none" stroke="#2a2a2a" stroke-width="0.85"/>
<polygon points="612.00,145.20 613.11,148.38 616.47,148.45 613.79,150.48 614.76,153.70 612.00,151.78 609.24,153.70 610.21,150.48 607.53,148.45 610.89,148.38" fill="none" stroke="#2a2a2a" stroke-width="0.85"/>
<polygon points="612.00,167.50 613.11,170.68 616.47,170.75 613.79,172.78 614.76,176.00 612.00,174.08 609.24,176.00 610.21,172.78 607.53,170.75 610.89,170.68" fill="none" stroke="#2a2a2a" stroke-width="0.85"/>
<polygon points="612.00,172.90 613.11,176.08 616.47,176.15 613.79,178.18 614.76,181.40 612.00,179.48 609.24,181.40 610.21,178.18 607.53,176.15 610.89,176.08" fill="none" stroke="#2a2a2a" stroke-width="0.85"/>
<path d="M393.20,234.50 L612.50,234.50" fill="none" stroke="#000" stroke-width="2.2" stroke-linecap="butt"/>
<path d="M392.60,210.30 L407.50,210.83 M424.20,211.42 L437.00,211.87 M453.18,212.45 L465.98,212.90 M482.16,213.48 L494.96,213.93 M511.14,214.50 L523.94,214.96 M540.12,215.53 L552.92,215.99 M569.10,216.56 L581.90,217.01 M598.08,217.59 L610.88,218.04" stroke="#000" stroke-width="2.0" fill="none"/>
<path d="M415.30,211.11 L416.50,211.15 M444.28,212.13 L445.48,212.18 M473.26,213.16 L474.46,213.20 M502.24,214.19 L503.44,214.23 M531.22,215.22 L532.42,215.26 M560.20,216.24 L561.40,216.29 M589.18,217.27 L590.38,217.32" stroke="#000" stroke-width="2.0" stroke-linecap="round" fill="none"/>
<path d="M392.60,220.40 L407.50,220.48 M417.20,220.53 L428.20,220.59 M440.30,220.66 L451.30,220.72 M463.40,220.79 L474.40,220.85 M486.50,220.91 L497.50,220.97 M509.60,221.04 L520.60,221.10 M532.70,221.16 L543.70,221.22 M555.80,221.29 L566.80,221.35 M578.90,221.42 L589.90,221.48 M602.00,221.54 L612.50,221.60" stroke="#000" stroke-width="2.0" fill="none"/>
<path d="" stroke="#000" stroke-width="2.0" stroke-linecap="round" fill="none"/>
<path d="M394.92,96.67 L396.48,97.33 M407.68,101.99 L409.25,102.65 M420.45,107.31 L422.02,107.96 M433.22,112.63 L434.79,113.28 M445.99,117.95 L447.56,118.60 M458.76,123.27 L460.33,123.92 M471.53,128.59 L473.10,129.24 M484.30,133.90 L485.87,134.56 M497.07,139.22 L498.63,139.88 M509.83,144.54 L511.40,145.20 M522.60,149.86 L524.17,150.51 M535.37,155.18 L536.94,155.83 M548.14,160.50 L549.71,161.15 M560.91,165.82 L562.48,166.47 M573.68,171.14 L575.25,171.79 M586.45,176.45 L588.02,177.11 M599.22,181.77 L600.78,182.43" stroke="#000" stroke-width="2.3" stroke-linecap="round" fill="none"/>
<circle cx="395.20" cy="463.30" r="4.0" fill="none" stroke="#444" stroke-width="0.85"/>
<circle cx="395.20" cy="472.70" r="4.0" fill="none" stroke="#444" stroke-width="0.85"/>
<polygon points="395.20,447.79 399.60,440.19 390.80,440.19" fill="none" stroke="#3a3a3a" stroke-width="0.85"/>
<polygon points="395.20,454.96 399.60,447.36 390.80,447.36" fill="none" stroke="#3a3a3a" stroke-width="0.85"/>
<polygon points="395.20,447.36 399.60,454.96 390.80,454.96" fill="none" stroke="#3a3a3a" stroke-width="0.85"/>
<polygon points="395.20,451.16 399.60,458.76 390.80,458.76" fill="none" stroke="#3a3a3a" stroke-width="0.85"/>
<polygon points="395.20,329.84 396.31,333.02 399.67,333.09 396.99,335.12 397.96,338.34 395.20,336.42 392.44,338.34 393.41,335.12 390.73,333.09 394.09,333.02" fill="none" stroke="#2a2a2a" stroke-width="0.85"/>
<polygon points="395.20,332.79 396.31,335.97 399.67,336.04 396.99,338.07 397.96,341.29 395.20,339.37 392.44,341.29 393.41,338.07 390.73,336.04 394.09,335.97" fill="none" stroke="#2a2a2a" stroke-width="0.85"/>
<polygon points="395.20,334.90 396.31,338.08 399.67,338.15 396.99,340.18 397.96,343.40 395.20,341.48 392.44,343.40 393.41,340.18 390.73,338.15 394.09,338.08" fill="none" stroke="#2a2a2a" stroke-width="0.85"/>
<polygon points="395.20,344.26 396.31,347.44 399.67,347.51 396.99,349.54 397.96,352.76 395.20,350.84 392.44,352.76 393.41,349.54 390.73,347.51 394.09,347.44" fill="none" stroke="#2a2a2a" stroke-width="0.85"/>
<circle cx="446.70" cy="435.80" r="4.0" fill="none" stroke="#444" stroke-width="0.85"/>
<circle cx="446.70" cy="460.00" r="4.0" fill="none" stroke="#444" stroke-width="0.85"/>
<circle cx="446.70" cy="464.00" r="4.0" fill="none" stroke="#444" stroke-width="0.85"/>
<circle cx="446.70" cy="466.00" r="4.0" fill="none" stroke="#444" stroke-width="0.85"/>
<circle cx="446.70" cy="498.00" r="4.0" fill="none" stroke="#444" stroke-width="0.85"/>
<polygon points="446.70,449.48 451.10,441.88 442.30,441.88" fill="none" stroke="#3a3a3a" stroke-width="0.85"/>
<polygon points="446.70,453.70 451.10,446.10 442.30,446.10" fill="none" stroke="#3a3a3a" stroke-width="0.85"/>
<polygon points="446.70,446.10 451.10,453.70 442.30,453.70" fill="none" stroke="#3a3a3a" stroke-width="0.85"/>
<polygon points="446.70,453.26 451.10,460.86 442.30,460.86" fill="none" stroke="#3a3a3a" stroke-width="0.85"/>
<polygon points="446.70,455.79 451.10,463.39 442.30,463.39" fill="none" stroke="#3a3a3a" stroke-width="0.85"/>
<polygon points="446.70,358.34 447.81,361.52 451.17,361.59 448.49,363.62 449.46,366.84 446.70,364.92 443.94,366.84 444.91,363.62 442.23,361.59 445.59,361.52" fill="none" stroke="#2a2a2a" stroke-width="0.85"/>
<polygon points="446.70,372.93 447.81,376.11 451.17,376.18 448.49,378.21 449.46,381.43 446.70,379.51 443.94,381.43 444.91,378.21 442.23,376.18 445.59,376.11" fill="none" stroke="#2a2a2a" stroke-width="0.85"/>
<polygon points="446.70,374.36 447.81,377.54 451.17,377.61 448.49,379.64 449.46,382.87 446.70,380.94 443.94,382.87 444.91,379.64 442.23,377.61 445.59,377.54" fill="none" stroke="#2a2a2a" stroke-width="0.85"/>
<polygon points="446.70,378.92 447.81,382.10 451.17,382.16 448.49,384.20 449.46,387.42 446.70,385.50 443.94,387.42 444.91,384.20 442.23,382.16 445.59,382.10" fill="none" stroke="#2a2a2a" stroke-width="0.85"/>
<circle cx="501.00" cy="420.80" r="4.0" fill="none" stroke="#444" stroke-width="0.85"/>
<circle cx="501.00" cy="487.60" r="4.0" fill="none" stroke="#444" stroke-width="0.85"/>
<circle cx="501.00" cy="499.50" r="4.0" fill="none" stroke="#444" stroke-width="0.85"/>
<polygon points="501.00,436.83 505.40,429.23 496.60,429.23" fill="none" stroke="#3a3a3a" stroke-width="0.85"/>
<polygon points="501.00,445.43 505.40,437.83 496.60,437.83" fill="none" stroke="#3a3a3a" stroke-width="0.85"/>
<polygon points="501.00,453.70 505.40,446.10 496.60,446.10" fill="none" stroke="#3a3a3a" stroke-width="0.85"/>
<polygon points="501.00,446.10 505.40,453.70 496.60,453.70" fill="none" stroke="#3a3a3a" stroke-width="0.85"/>
<polygon points="501.00,447.36 505.40,454.96 496.60,454.96" fill="none" stroke="#3a3a3a" stroke-width="0.85"/>
<polygon points="501.00,359.69 502.11,362.87 505.47,362.94 502.79,364.97 503.76,368.19 501.00,366.27 498.24,368.19 499.21,364.97 496.53,362.94 499.89,362.87" fill="none" stroke="#2a2a2a" stroke-width="0.85"/>
<polygon points="501.00,369.30 502.11,372.48 505.47,372.55 502.79,374.58 503.76,377.81 501.00,375.88 498.24,377.81 499.21,374.58 496.53,372.55 499.89,372.48" fill="none" stroke="#2a2a2a" stroke-width="0.85"/>
<polygon points="501.00,372.51 502.11,375.69 505.47,375.76 502.79,377.79 503.76,381.01 501.00,379.09 498.24,381.01 499.21,377.79 496.53,375.76 499.89,375.69" fill="none" stroke="#2a2a2a" stroke-width="0.85"/>
<polygon points="501.00,379.34 502.11,382.52 505.47,382.59 502.79,384.62 503.76,387.84 501.00,385.92 498.24,387.84 499.21,384.62 496.53,382.59 499.89,382.52" fill="none" stroke="#2a2a2a" stroke-width="0.85"/>
<circle cx="554.90" cy="434.00" r="4.0" fill="none" stroke="#444" stroke-width="0.85"/>
<circle cx="554.90" cy="475.60" r="4.0" fill="none" stroke="#444" stroke-width="0.85"/>
<circle cx="554.90" cy="499.50" r="4.0" fill="none" stroke="#444" stroke-width="0.85"/>
<polygon points="554.90,454.12 559.30,446.52 550.50,446.52" fill="none" stroke="#3a3a3a" stroke-width="0.85"/>
<polygon points="554.90,459.18 559.30,451.58 550.50,451.58" fill="none" stroke="#3a3a3a" stroke-width="0.85"/>
<polygon points="554.90,453.26 559.30,460.86 550.50,460.86" fill="none" stroke="#3a3a3a" stroke-width="0.85"/>
<polygon points="554.90,432.04 556.01,435.22 559.37,435.29 556.69,437.32 557.66,440.54 554.90,438.62 552.14,440.54 553.11,437.32 550.43,435.29 553.79,435.22" fill="none" stroke="#2a2a2a" stroke-width="0.85"/>
<polygon points="554.90,435.84 556.01,439.02 559.37,439.08 556.69,441.12 557.66,444.34 554.90,442.42 552.14,444.34 553.11,441.12 550.43,439.08 553.79,439.02" fill="none" stroke="#2a2a2a" stroke-width="0.85"/>
<polygon points="554.90,439.21 556.01,442.39 559.37,442.46 556.69,444.49 557.66,447.71 554.90,445.79 552.14,447.71 553.11,444.49 550.43,442.46 553.79,442.39" fill="none" stroke="#2a2a2a" stroke-width="0.85"/>
<circle cx="612.00" cy="447.70" r="4.0" fill="none" stroke="#444" stroke-width="0.85"/>
<circle cx="612.00" cy="479.50" r="4.0" fill="none" stroke="#444" stroke-width="0.85"/>
<polygon points="612.00,457.07 616.40,449.47 607.60,449.47" fill="none" stroke="#3a3a3a" stroke-width="0.85"/>
<polygon points="612.00,458.33 616.40,450.73 607.60,450.73" fill="none" stroke="#3a3a3a" stroke-width="0.85"/>
<polygon points="612.00,454.95 616.40,462.55 607.60,462.55" fill="none" stroke="#3a3a3a" stroke-width="0.85"/>
<polygon points="612.00,457.48 616.40,465.08 607.60,465.08" fill="none" stroke="#3a3a3a" stroke-width="0.85"/>
<polygon points="612.00,387.35 613.11,390.53 616.47,390.60 613.79,392.63 614.76,395.85 612.00,393.93 609.24,395.85 610.21,392.63 607.53,390.60 610.89,390.53" fill="none" stroke="#2a2a2a" stroke-width="0.85"/>
<polygon points="612.00,389.88 613.11,393.06 616.47,393.13 613.79,395.16 614.76,398.38 612.00,396.46 609.24,398.38 610.21,395.16 607.53,393.13 610.89,393.06" fill="none" stroke="#2a2a2a" stroke-width="0.85"/>
<polygon points="612.00,408.68 613.11,411.86 616.47,411.93 613.79,413.96 614.76,417.19 612.00,415.26 609.24,417.19 610.21,413.96 607.53,411.93 610.89,411.86" fill="none" stroke="#2a2a2a" stroke-width="0.85"/>
<polygon points="612.00,413.24 613.11,416.42 616.47,416.48 613.79,418.52 614.76,421.74 612.00,419.82 609.24,421.74 610.21,418.52 607.53,416.48 610.89,416.42" fill="none" stroke="#2a2a2a" stroke-width="0.85"/>
<path d="M393.20,462.60 L612.50,462.00" fill="none" stroke="#000" stroke-width="2.0" stroke-linecap="butt"/>
<path d="M392.60,445.51 L407.50,445.96 M424.20,446.46 L437.00,446.84 M453.18,447.32 L465.98,447.71 M482.16,448.19 L494.96,448.57 M511.14,449.06 L523.94,449.44 M540.12,449.92 L552.92,450.31 M569.10,450.79 L581.90,451.17 M598.08,451.66 L610.88,452.04" stroke="#000" stroke-width="2.0" fill="none"/>
<path d="M415.30,446.19 L416.50,446.23 M444.28,447.06 L445.48,447.09 M473.26,447.92 L474.46,447.96 M502.24,448.79 L503.44,448.83 M531.22,449.66 L532.42,449.69 M560.20,450.52 L561.40,450.56 M589.18,451.39 L590.38,451.43" stroke="#000" stroke-width="2.0" stroke-linecap="round" fill="none"/>
<path d="M392.60,454.03 L407.50,454.10 M417.20,454.14 L428.20,454.19 M440.30,454.25 L451.30,454.30 M463.40,454.35 L474.40,454.41 M486.50,454.46 L497.50,454.51 M509.60,454.57 L520.60,454.62 M532.70,454.67 L543.70,454.72 M555.80,454.78 L566.80,454.83 M578.90,454.89 L589.90,454.94 M602.00,454.99 L612.50,455.04" stroke="#000" stroke-width="2.0" fill="none"/>
<path d="" stroke="#000" stroke-width="2.0" stroke-linecap="round" fill="none"/>
<path d="M394.40,349.62 L396.00,350.18 M407.50,354.18 L409.11,354.74 M420.61,358.73 L422.22,359.29 M433.72,363.29 L435.32,363.85 M446.82,367.85 L448.43,368.40 M459.93,372.40 L461.53,372.96 M473.03,376.96 L474.64,377.52 M486.14,381.51 L487.75,382.07 M499.25,386.07 L500.85,386.63 M512.35,390.63 L513.96,391.19 M525.46,395.18 L527.07,395.74 M538.57,399.74 L540.17,400.30 M551.67,404.30 L553.28,404.85 M564.78,408.85 L566.38,409.41 M577.88,413.41 L579.49,413.97 M590.99,417.96 L592.60,418.52 M604.10,422.52 L605.70,423.08" stroke="#000" stroke-width="2.3" stroke-linecap="round" fill="none"/>
<text x="412.00" y="202.4" font-size="14">R<tspan font-size="9.5" dy="-4.6" dx="0.4">2</tspan><tspan dy="4.6"> = 0.16</tspan><tspan font-size="10.6" dy="-4.8" dx="1.5">*</tspan></text>
<text x="619.60" y="188.4" font-size="14">R<tspan font-size="9.5" dy="-4.6" dx="0.4">2</tspan><tspan dy="4.6"> = 0.58</tspan><tspan font-size="10.6" dy="-4.8" dx="1.5">**</tspan></text>
<text x="621.30" y="228.4" font-size="14">R<tspan font-size="9.5" dy="-4.6" dx="0.4">2</tspan><tspan dy="4.6"> = 0.01</tspan></text>
<text x="621.30" y="246.5" font-size="14">R<tspan font-size="9.5" dy="-4.6" dx="0.4">2</tspan><tspan dy="4.6"> = 0.00</tspan></text>
<text x="392.90" y="432.2" font-size="14">R<tspan font-size="9.5" dy="-4.6" dx="0.4">2</tspan><tspan dy="4.6"> = 0.16</tspan><tspan font-size="10.6" dy="-4.8" dx="1.5">*</tspan></text>
<text x="619.60" y="428.0" font-size="14">R<tspan font-size="9.5" dy="-4.6" dx="0.4">2</tspan><tspan dy="4.6"> = 0.58</tspan><tspan font-size="10.6" dy="-4.8" dx="1.5">**</tspan></text>
<text x="620.60" y="457.5" font-size="14">R<tspan font-size="9.5" dy="-4.6" dx="0.4">2</tspan><tspan dy="4.6"> = 0.01</tspan></text>
<text x="621.90" y="474.5" font-size="14">R<tspan font-size="9.5" dy="-4.6" dx="0.4">2</tspan><tspan dy="4.6"> = 0.00</tspan></text>
</svg></body></html>
